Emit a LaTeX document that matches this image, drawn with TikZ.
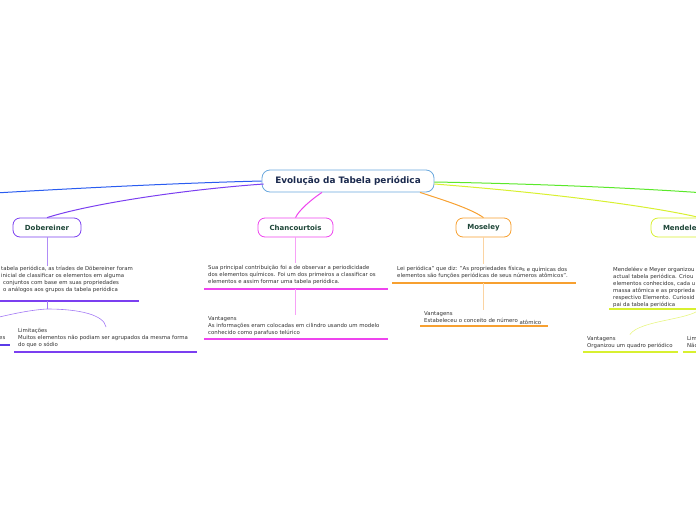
\documentclass[tikz,border=0pt]{standalone}
\usepackage{fontspec}
\setmainfont{DejaVu Sans}
\usetikzlibrary{calc}
\definecolor{dob}{HTML}{7B3FF0}
\definecolor{dobl}{HTML}{5A3BE8}
\definecolor{cha}{HTML}{EE44EE}
\definecolor{mos}{HTML}{F7A030}
\definecolor{men}{HTML}{D8F030}
\definecolor{grn}{HTML}{5AE82A}
\definecolor{blu}{HTML}{2A5CF0}
\definecolor{rootline}{HTML}{6AA8DE}
\definecolor{roottext}{HTML}{1B2A4E}
\definecolor{toptext}{HTML}{1E4638}
\definecolor{bodytext}{HTML}{333333}
\begin{document}
\begin{tikzpicture}[x=1pt,y=-1pt,
  rootbox/.style={draw=rootline, fill=white, rounded corners=8pt, line width=0.8pt,
    minimum width=172pt, minimum height=22pt, inner sep=0pt,
    font=\fontsize{8.9}{10}\selectfont\bfseries, text=roottext},
  topic/.style={fill=white, rounded corners=7pt, line width=0.8pt,
    minimum height=19pt, inner sep=0pt,
    font=\fontsize{7}{8}\selectfont\bfseries, text=toptext},
  txt/.style={anchor=north west, inner sep=0pt, align=left,
    font=\fontsize{5.4}{7}\selectfont, text=bodytext},
  branch/.style={line width=1pt},
  stem/.style={line width=0.6pt},
  ul/.style={line width=1.6pt}]
\useasboundingbox (0,0) rectangle (696,520);
\clip (0,0) rectangle (696,520);

% main nodes
\node[rootbox] (root) at (348,181) {Evolução da Tabela periódica};
\node[topic, draw=dob, minimum width=68pt] (dob) at (47,227.5) {Dobereiner};
\node[topic, draw=cha, minimum width=75pt] (cha) at (295.5,227.5) {Chancourtois};
\node[topic, draw=mos, minimum width=55pt] (mos) at (483.5,227.5) {Moseley};
\node[topic, draw=men, text width=74pt, align=left, inner xsep=12pt] (men) at (700,227.5) {Mendeleev};

% main branches
\draw[branch, blu] (root.west) .. controls (180,183) and (80,188) .. (-5,193);
\draw[branch, dob] ($(root.west)+(2,3)$) .. controls (180,190) and (90,204) .. (dob.north);
\draw[branch, cha] ($(root.south)+(-26,0)$) .. controls (312,199) and (299,210) .. (cha.north);
\draw[branch, mos] ($(root.south)+(72,0)$) .. controls (440,199) and (470,208) .. (mos.north);
\draw[branch, men] ($(root.east)+(0,3)$) .. controls (550,193) and (650,206) .. (men.north);
\draw[branch, grn] ($(root.east)+(0,1)$) .. controls (550,184) and (650,189) .. (705,193);

% Dobereiner
\node[txt] (dobtxt) at (1,266) {tabela periódica, as tríades de Döbereiner foram\\
inicial de classificar os elementos em alguma\\
\hspace{2pt}conjuntos com base em suas propriedades\\
\hspace{2pt}o análogos aos grupos da tabela periódica};
\coordinate (dobL) at (-1,301);
\coordinate (dobR) at (139,301);
\coordinate (dobfork) at (47,309);
\draw[stem, dob!60] (dob.south) -- (dob.south |- dobtxt.north);
\draw[ul, dob] (dobL) -- (dobR);
\draw[stem, dob!70] (dobfork |- dobL) -- (dobfork);
\node[txt] (limtxt) at (18,328.5) {Limitações\\
Muitos elementos não podiam ser agrupados da mesma forma\\
do que o sódio};
\node[txt] (vantes) at (-1,336) {es};
\draw[stem, dob!70] (dobfork) .. controls (80,309) and (104,315) .. (106,327);
\draw[stem, dob!70] (dobfork) .. controls (30,310) and (12,314) .. (-5,318);
\draw[ul, dob] (14,352) -- (197,352);
\draw[ul, dobl] (-1,345) -- (10,345);

% Chancourtois
\node[txt] (chatxt) at (208,265) {Sua principal contribuição foi a de observar a periodicidade\\
dos elementos químicos. Foi um dos primeiros a classificar os\\
elementos e assim formar uma tabela periódica.};
\coordinate (chaL) at (204,289);
\coordinate (chaR) at (388,289);
\draw[stem, cha!50] (cha.south) -- ($(cha.south |- chatxt.north)+(0,-2)$);
\draw[ul, cha] (chaL) -- (chaR);
\node[txt] (chavan) at (208,316.5) {Vantagens\\
As informações eram colocadas em cilindro usando um modelo\\
conhecido como parafuso telúrico};
\draw[stem, cha!50] (cha.south |- chaL) -- ($(cha.south |- chavan.north)+(0,-2)$);
\draw[ul, cha] (204,339) -- (388,339);

% Moseley
\node[txt] (mostxt) at (397,266) {Lei periódica" que diz: "As propriedades física\raisebox{-0.8pt}{s e químicas dos}\\
elementos são funções periódicas de seus números atômicos".};
\coordinate (mosL) at (392,283);
\coordinate (mosR) at (576,283);
\draw[stem, mos!45] (mos.south) -- ($(mos.south |- mostxt.north)+(0,-2)$);
\draw[ul, mos] (mosL) -- (mosR);
\node[txt] (mosvan) at (424,311.5) {Vantagens\\
Estabeleceu o conceito de número \raisebox{-1.5pt}{atômico}};
\draw[stem, mos!45] (mos.south |- mosL) -- ($(mos.south |- mosvan.north)+(0,-2)$);
\draw[ul, mos] (420,326) -- (548,326);

% Mendeleev
\node[txt] (mentxt) at (613,267) {Mendeléev e Meyer organizou\\
actual tabela periódica. Criou\\
elementos conhecidos, cada u\\
massa atômica e as proprieda\\
respectivo Elemento. Curiosid\\
pai da tabela periódica};
\coordinate (menL) at (609,309);
\coordinate (menR) at (705,309);
\draw[stem, men!60] (men.south) -- ($(men.south |- mentxt.north)+(0,-2)$);
\draw[ul, men] (menL) -- (menR);
\node[txt] (menvan) at (587,336.5) {Vantagens\\Organizou um quadro periódico};
\node[txt] (menlim) at (687,336.5) {Lim\\Não};
\draw[stem, men!60] (700,309) .. controls (690,320) and (640,320) .. ($(menvan.north)+(0,-2)$);
\draw[ul, men] (583,352) -- (678,352);
\draw[ul, men] (683,352) -- (705,352);
\end{tikzpicture}
\end{document}
